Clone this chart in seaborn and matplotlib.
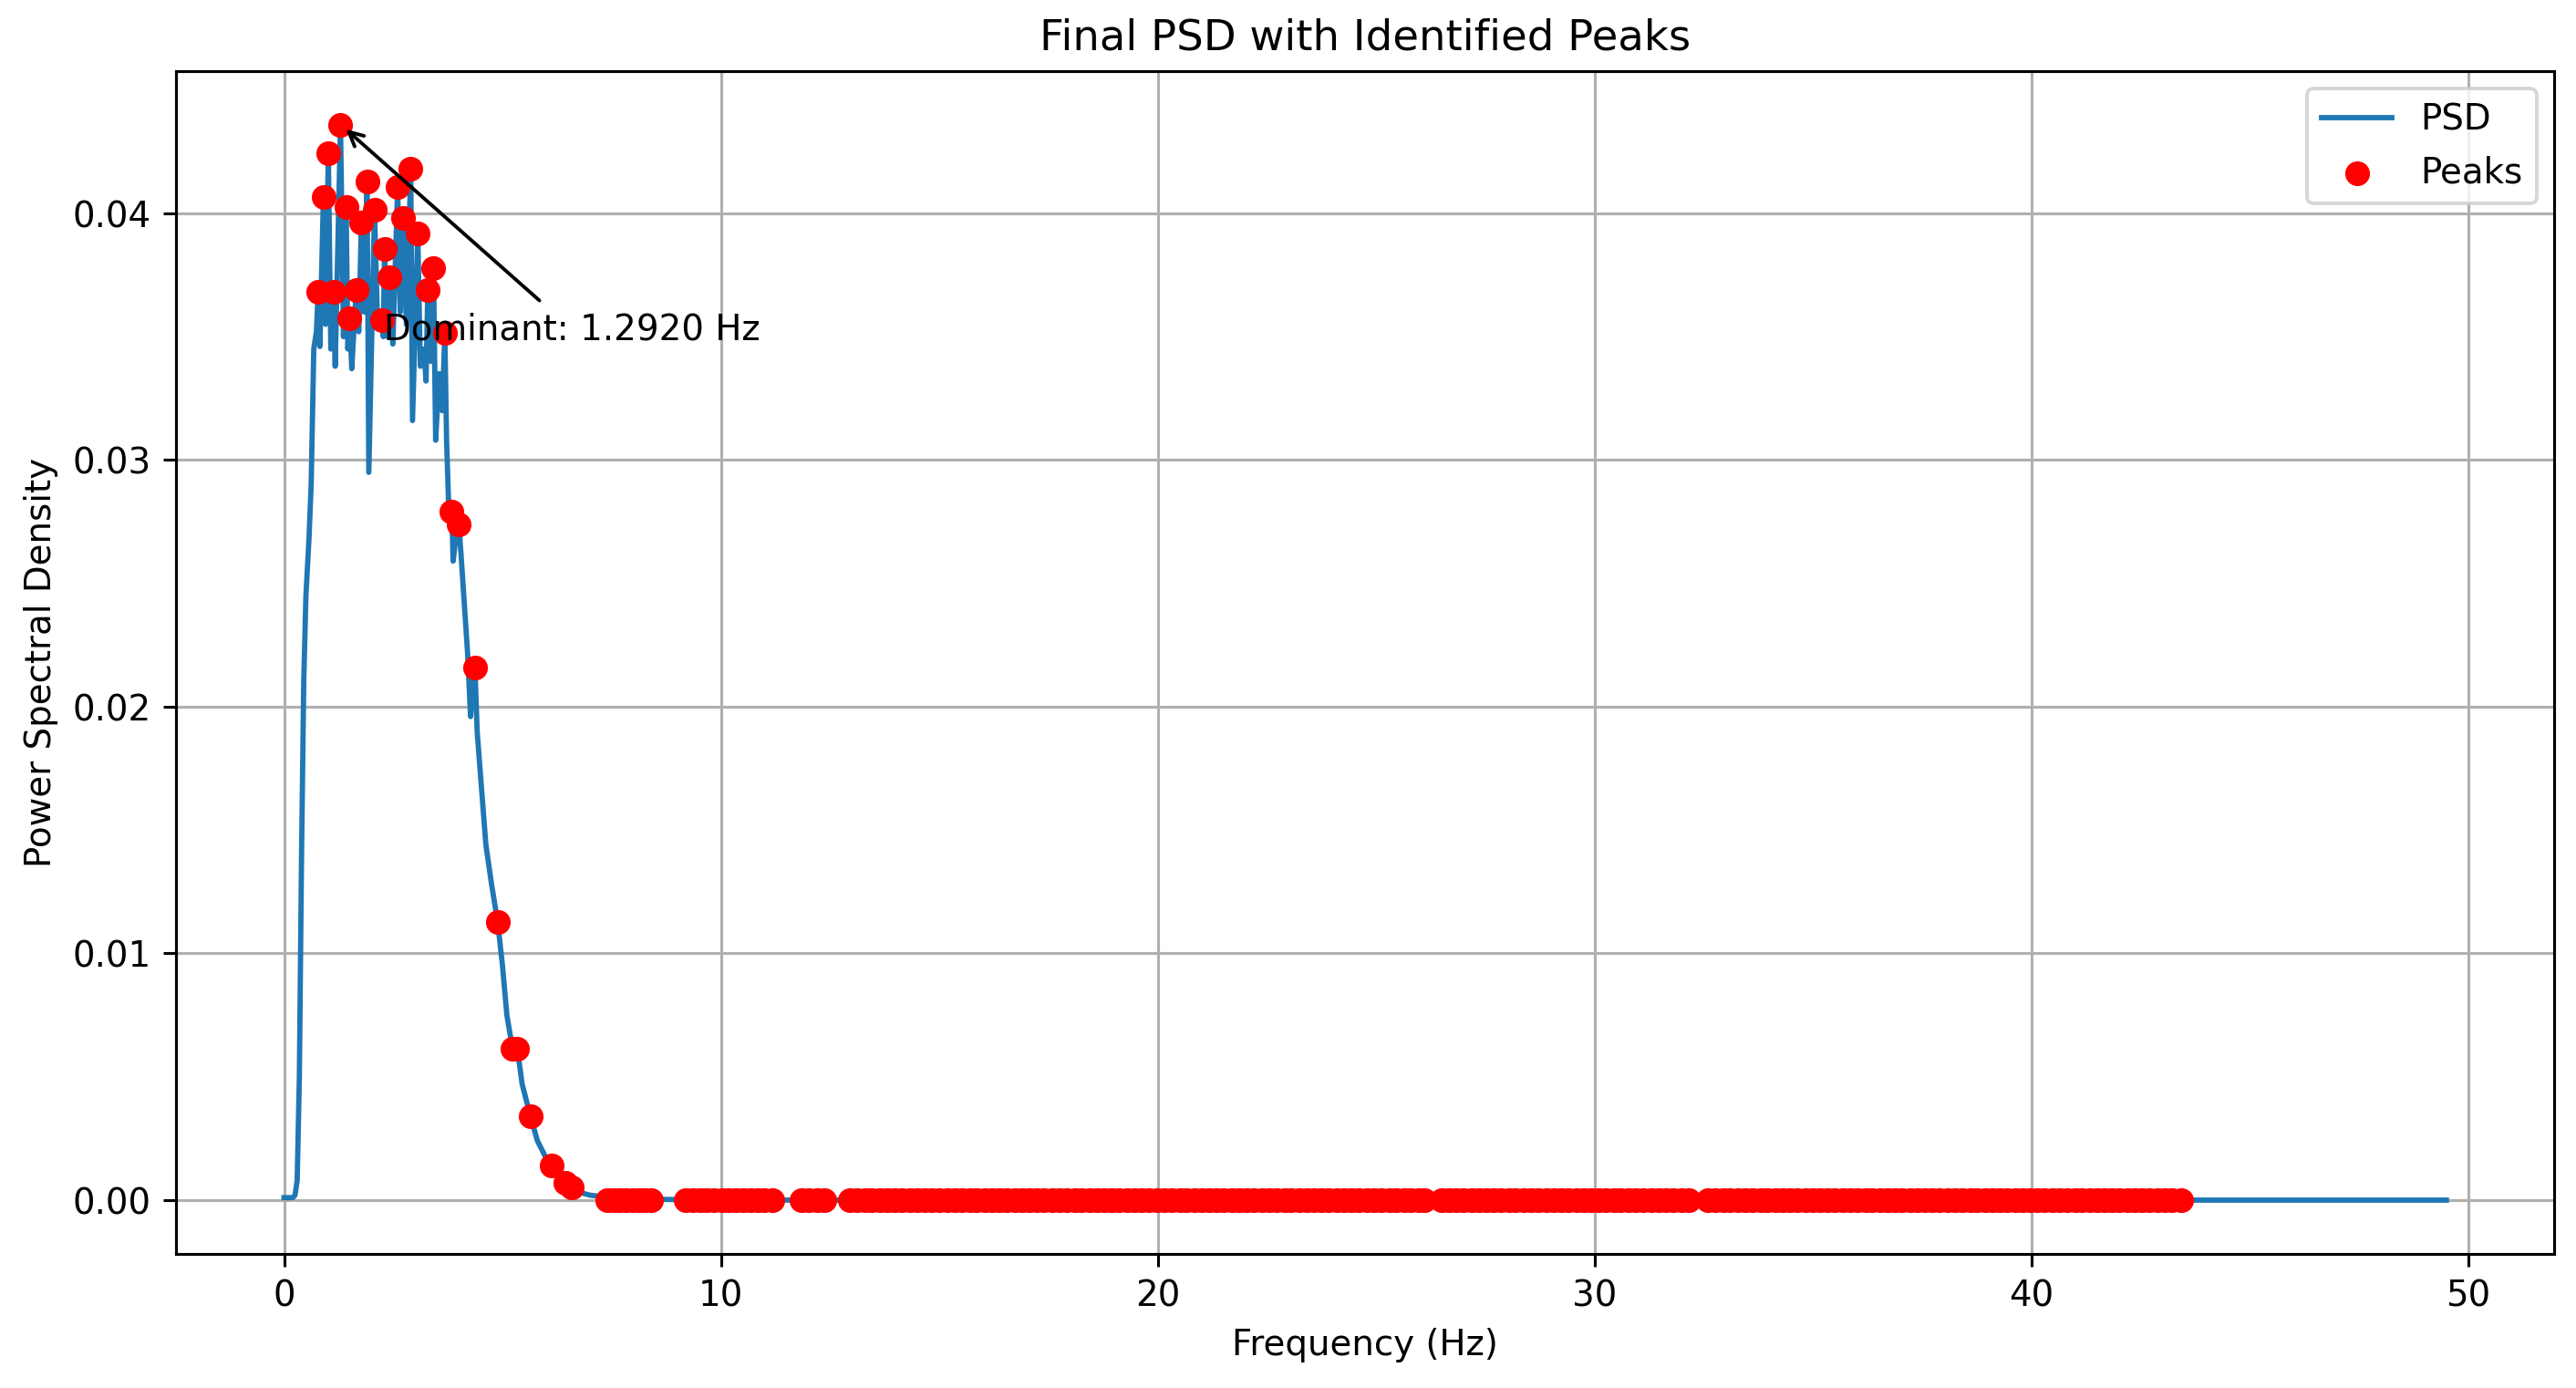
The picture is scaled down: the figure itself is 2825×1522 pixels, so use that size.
import numpy as np
import pandas as pd
import matplotlib
matplotlib.use("Agg")
import matplotlib.pyplot as plt
import seaborn as sns

# PSD curve (Hz, power)
psd_freq = [0.0, 0.1, 0.2, 0.25, 0.3, 0.35, 0.4, 0.45, 0.5, 0.57, 0.62, 0.68,
            0.74, 0.78, 0.82, 0.90, 0.95, 1.013, 1.07, 1.13, 1.17, 1.292, 1.36,
            1.42, 1.46, 1.50, 1.55, 1.65, 1.71, 1.77, 1.83, 1.90, 1.94, 2.07,
            2.14, 2.25, 2.27, 2.30, 2.36, 2.42, 2.49, 2.60, 2.66, 2.72, 2.80,
            2.90, 2.94, 3.06, 3.12, 3.20, 3.25, 3.29, 3.36, 3.42, 3.47, 3.55,
            3.62, 3.68, 3.72, 3.78, 3.84, 3.87, 3.93, 4.00, 4.05, 4.20, 4.27,
            4.30, 4.37, 4.42, 4.48, 4.62, 4.75, 4.89, 5.00, 5.10, 5.23, 5.28,
            5.34, 5.45, 5.64, 5.80, 6.00, 6.13, 6.30, 6.43, 6.50, 6.58, 6.80,
            7.00, 7.45, 8.00, 9.00, 10.0, 20.0, 30.0, 40.0, 49.5]
psd_val = [0.0001, 0.0001, 0.0001, 0.0002, 0.0008, 0.005, 0.014, 0.021, 0.0245,
           0.0268, 0.029, 0.0345, 0.0352, 0.0368, 0.0346, 0.04065, 0.0355,
           0.04242, 0.0345, 0.0368, 0.0338, 0.0436, 0.0350, 0.04026, 0.0345,
           0.03576, 0.0337, 0.0369, 0.0352, 0.03964, 0.0360, 0.0413, 0.0295,
           0.04014, 0.0355, 0.03566, 0.0350, 0.03857, 0.0350, 0.03742, 0.0347,
           0.04106, 0.0360, 0.03983, 0.0355, 0.0418, 0.0316, 0.03919, 0.0338,
           0.0345, 0.0332, 0.03689, 0.0340, 0.03776, 0.0308, 0.0335, 0.0320,
           0.03514, 0.0308, 0.0275, 0.02789, 0.0259, 0.0268, 0.02739, 0.0262,
           0.0222, 0.0196, 0.0205, 0.02157, 0.0190, 0.0176, 0.0144, 0.0128,
           0.01127, 0.0095, 0.0075, 0.00613, 0.0059, 0.00613, 0.0047, 0.0034,
           0.0024, 0.0017, 0.0014, 0.0009, 0.0007, 0.0005, 0.0005, 0.0003,
           0.0002, 0.0001, 0.00005, 0.00002, 0.0, 0.0, 0.0, 0.0, 0.0]

# identified peaks in the main band
band_peak_freq = [1.292, 1.013, 0.90, 0.78, 1.13, 1.65, 1.42, 1.50, 1.90, 1.77,
                  2.07, 2.30, 2.42, 2.25, 2.60, 2.90, 2.72, 3.06, 3.42, 3.29,
                  3.68, 3.84, 4.00, 4.37, 4.89, 5.23, 5.34, 5.64, 6.13, 6.43, 6.58]
band_peak_val = [0.0436, 0.04242, 0.04065, 0.0368, 0.0368, 0.0369, 0.04026,
                 0.03576, 0.0413, 0.03964, 0.04014, 0.03857, 0.03742, 0.03566,
                 0.04106, 0.0418, 0.03983, 0.03919, 0.03776, 0.03689, 0.03514,
                 0.02789, 0.02739, 0.02157, 0.01127, 0.00613, 0.00613, 0.0034,
                 0.0014, 0.0007, 0.0005]

# tiny peaks along the flat tail (power ~ 0)
tail_peak_freq = [7.40, 7.55, 7.68, 7.82, 7.98, 8.12, 8.25, 8.40,
                  9.20, 9.36, 9.52, 9.68, 9.85, 10.02, 10.18, 10.35, 10.52, 10.68,
                  10.85, 11.0, 11.17,
                  11.85, 12.02, 12.2, 12.36,
                  12.95, 13.12, 13.3, 13.46, 13.64, 13.8, 13.98, 14.15, 14.32, 14.5,
                  14.66, 14.84, 15.0, 15.18, 15.35, 15.52, 15.7, 15.86, 16.04, 16.2,
                  16.38, 16.55, 16.72, 16.9, 17.06, 17.24, 17.4, 17.58, 17.75, 17.92,
                  18.1, 18.26, 18.44, 18.6, 18.78, 18.95, 19.12, 19.3, 19.46, 19.64,
                  19.8, 19.98, 20.15, 20.32, 20.5, 20.66, 20.84, 21.0, 21.18, 21.35,
                  21.52, 21.7, 21.86, 22.04, 22.2, 22.38, 22.55, 22.72, 22.9, 23.06,
                  23.24, 23.4, 23.58, 23.75, 23.92, 24.1, 24.26, 24.44, 24.6, 24.78,
                  24.95, 25.12, 25.3, 25.46, 25.64, 25.8, 25.98, 26.1, 26.5, 26.66,
                  26.84, 27.0, 27.18, 27.35, 27.52, 27.7, 27.86, 28.04, 28.2, 28.38,
                  28.55, 28.72, 28.9, 29.06, 29.24, 29.4, 29.58, 29.75, 29.92, 30.1,
                  30.26, 30.44, 30.6, 30.78, 30.95, 31.12, 31.3, 31.46, 31.64, 31.8,
                  31.98, 32.15, 32.6, 32.76, 32.94, 33.1, 33.28, 33.45, 33.62, 33.8,
                  33.96, 34.14, 34.3, 34.48, 34.65, 34.82, 35.0, 35.16, 35.34, 35.5,
                  35.68, 35.85, 36.02, 36.2, 36.36, 36.54, 36.7, 36.88, 37.05, 37.22,
                  37.4, 37.56, 37.74, 37.9, 38.08, 38.25, 38.42, 38.6, 38.76, 38.94,
                  39.1, 39.28, 39.45, 39.62, 39.8, 39.96, 40.14, 40.3, 40.48, 40.65,
                  40.82, 41.0, 41.16, 41.34, 41.5, 41.68, 41.85, 42.02, 42.2, 42.36,
                  42.54, 42.7, 42.88, 43.05, 43.22, 43.43]
tail_peak_val = [0.0] * len(tail_peak_freq)

dominant_freq = 1.2920
dominant_power = 0.0436

psd_df = pd.DataFrame({"freq": psd_freq, "psd": psd_val})
peaks_df = pd.DataFrame({"freq": band_peak_freq + tail_peak_freq,
                         "psd": band_peak_val + tail_peak_val})

dpi = 279
fig = plt.figure(figsize=(2825.4 / dpi, 1522.4 / dpi), dpi=dpi)
ax = fig.add_axes([0.0683, 0.0966, 0.9232, 0.8522])

sns.lineplot(data=psd_df, x="freq", y="psd", ax=ax, color="#1f77b4",
             linewidth=1.5, label="PSD")
sns.scatterplot(data=peaks_df, x="freq", y="psd", ax=ax, color="red",
                s=49, linewidth=0, label="Peaks", zorder=2.5)

ax.annotate(f"Dominant: {dominant_freq:.4f} Hz",
            xy=(dominant_freq, dominant_power),
            xytext=(dominant_freq + 1, dominant_power * 0.8),
            arrowprops=dict(facecolor="black", arrowstyle="->"))

ax.set_title("Final PSD with Identified Peaks")
ax.set_xlabel("Frequency (Hz)")
ax.set_ylabel("Power Spectral Density")
ax.grid(True)
ax.legend(loc="upper right")

fig.savefig("out.png", dpi=dpi)
plt.close(fig)
